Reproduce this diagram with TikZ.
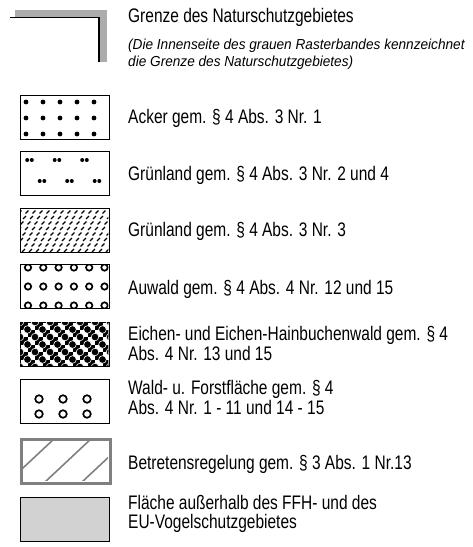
\documentclass[tikz,border=0pt]{standalone}
\usepackage{fontspec}
\newfontfamily\legendfont[FakeStretch=0.79]{Liberation Sans}
\newfontfamily\notefont[FakeStretch=0.94]{Liberation Sans}
\usetikzlibrary{positioning}

\begin{document}
\begin{tikzpicture}[
    x=1pt, y=-1pt,
    legendbox/.style={draw, line width=1.3pt, minimum width=89pt, minimum height=44pt, inner sep=0pt, anchor=north west},
    entry/.style={anchor=base west, inner sep=0pt, align=left, font=\legendfont\fontsize{19.6}{17.5}\selectfont},
    note/.style={anchor=base west, inner sep=0pt, align=left, font=\notefont\itshape\fontsize{14.5}{17}\selectfont},
    ring/.style={draw, line width=1.7pt}
]
    \useasboundingbox (0,0) rectangle (472,547);

    % Grenze: grey band with black inner edge
    \draw[gray!65, line width=7.5pt] (15,13.5) -- (103,13.5) -- (103,62);
    \draw[line width=1.2pt] (10,17.5) -- (99,17.5) -- (99,62);
    \node[entry] (grenze) at (128,22) {Grenze des Naturschutzgebietes};
    \node[note] (hinweis) at (128,66) {(Die Innenseite des grauen Rasterbandes kennzeichnet\\die Grenze des Naturschutzgebietes)};

    % legend boxes
    \node[legendbox] (acker) at (20,95) {};
    \node[legendbox] (wiese) at (20,151) {};
    \node[legendbox] (wiesedrei) at (20,208) {};
    \node[legendbox] (auwald) at (20,264) {};
    \node[legendbox] (eichen) at (20,322) {};
    \node[legendbox] (wald) at (20,379) {};
    \node[legendbox, draw=gray, line width=2.5pt] (betreten) at (20,438) {};
    \node[legendbox, fill=gray!35] (aussen) at (20,497) {};

    % fillings, clipped to the inside of each box
    \begin{scope}[shift={(acker.north west)}]
        \clip (0.65,0.65) rectangle (88.35,43.35);
        \foreach \i in {0,...,4} \foreach \j in {0,1,2}
            \fill (6+17*\i,7+16*\j) circle (2.4);
    \end{scope}
    \begin{scope}[shift={(wiese.north west)}]
        \clip (0.65,0.65) rectangle (88.35,43.35);
        \foreach \i in {0,1,2} {
            \fill (7.2+27.5*\i,9) circle (2) (11.8+27.5*\i,9) circle (2);
            \fill (19.7+27.5*\i,30) circle (2) (24.3+27.5*\i,30) circle (2);
        }
    \end{scope}
    \begin{scope}[shift={(wiesedrei.north west)}]
        \clip (0.65,0.65) rectangle (88.35,43.35);
        \foreach \j in {0,...,7} \foreach \i in {0,...,15}
            \draw[line width=1.3pt] (7*\i-2.5*\j-1.4,4+5.5*\j+1.4) -- ++(2.8,-2.8);
    \end{scope}
    \begin{scope}[shift={(auwald.north west)}]
        \clip (0.65,0.65) rectangle (88.35,43.35);
        \foreach \i in {0,...,5} \foreach \j in {0,1,2}
            \draw[ring] (8+15.3*\i,3.5+19*\j) circle (3.2);
    \end{scope}
    \begin{scope}[shift={(eichen.north west)}]
        \clip (0.65,0.65) rectangle (88.35,43.35);
        \foreach \i in {0,...,11} \foreach \j in {0,...,5} {
            \pgfmathtruncatemacro\k{mod(\i+\j,2)}
            \ifnum\k=0 \fill (7.5*\i,7.5*\j) rectangle ++(7.5,7.5);\fi
        }
        \foreach \i in {0,...,12} \foreach \j in {0,...,6} {
            \pgfmathtruncatemacro\k{mod(\i+\j,2)}
            \ifnum\k=0 \filldraw[draw=white, line width=0.6pt] (7.5*\i,7.5*\j) circle (3.8);\fi
        }
    \end{scope}
    \begin{scope}[shift={(wald.north west)}]
        \clip (0.65,0.65) rectangle (88.35,43.35);
        \foreach \i in {0,1,2} \foreach \j in {0,1}
            \draw[ring] (19+24*\i,20+15*\j) circle (3.8);
    \end{scope}
    \begin{scope}[shift={(betreten.north west)}]
        \clip (1.25,1.25) rectangle (87.75,42.75);
        \foreach \x in {-12,25,62}
            \draw[gray, line width=1.6pt] (\x,44) -- ++(47,-44);
    \end{scope}

    % texts
    \node[entry] (ackertext) at (128,123) {Acker gem. § 4 Abs. 3 Nr. 1};
    \node[entry] (wiesetext) at (128,180) {Grünland gem. § 4 Abs. 3 Nr. 2 und 4};
    \node[entry] (wiesedreitext) at (128,236) {Grünland gem. § 4 Abs. 3 Nr. 3};
    \node[entry] (auwaldtext) at (128,294) {Auwald gem. § 4 Abs. 4 Nr. 12 und 15};
    \node[entry] (eichentext) at (128,360) {Eichen- und Eichen-Hainbuchenwald gem. § 4\\Abs. 4 Nr. 13 und 15};
    \node[entry] (waldtext) at (128,414) {Wald- u. Forstfläche gem. § 4\\Abs. 4 Nr. 1 - 11 und 14 - 15};
    \node[entry] (betretentext) at (128,469) {Betretensregelung gem. § 3 Abs. 1 Nr.13};
    \node[entry] (aussentext) at (128,528) {Fläche außerhalb des FFH- und des\\[1pt]EU-Vogelschutzgebietes};
\end{tikzpicture}
\end{document}
